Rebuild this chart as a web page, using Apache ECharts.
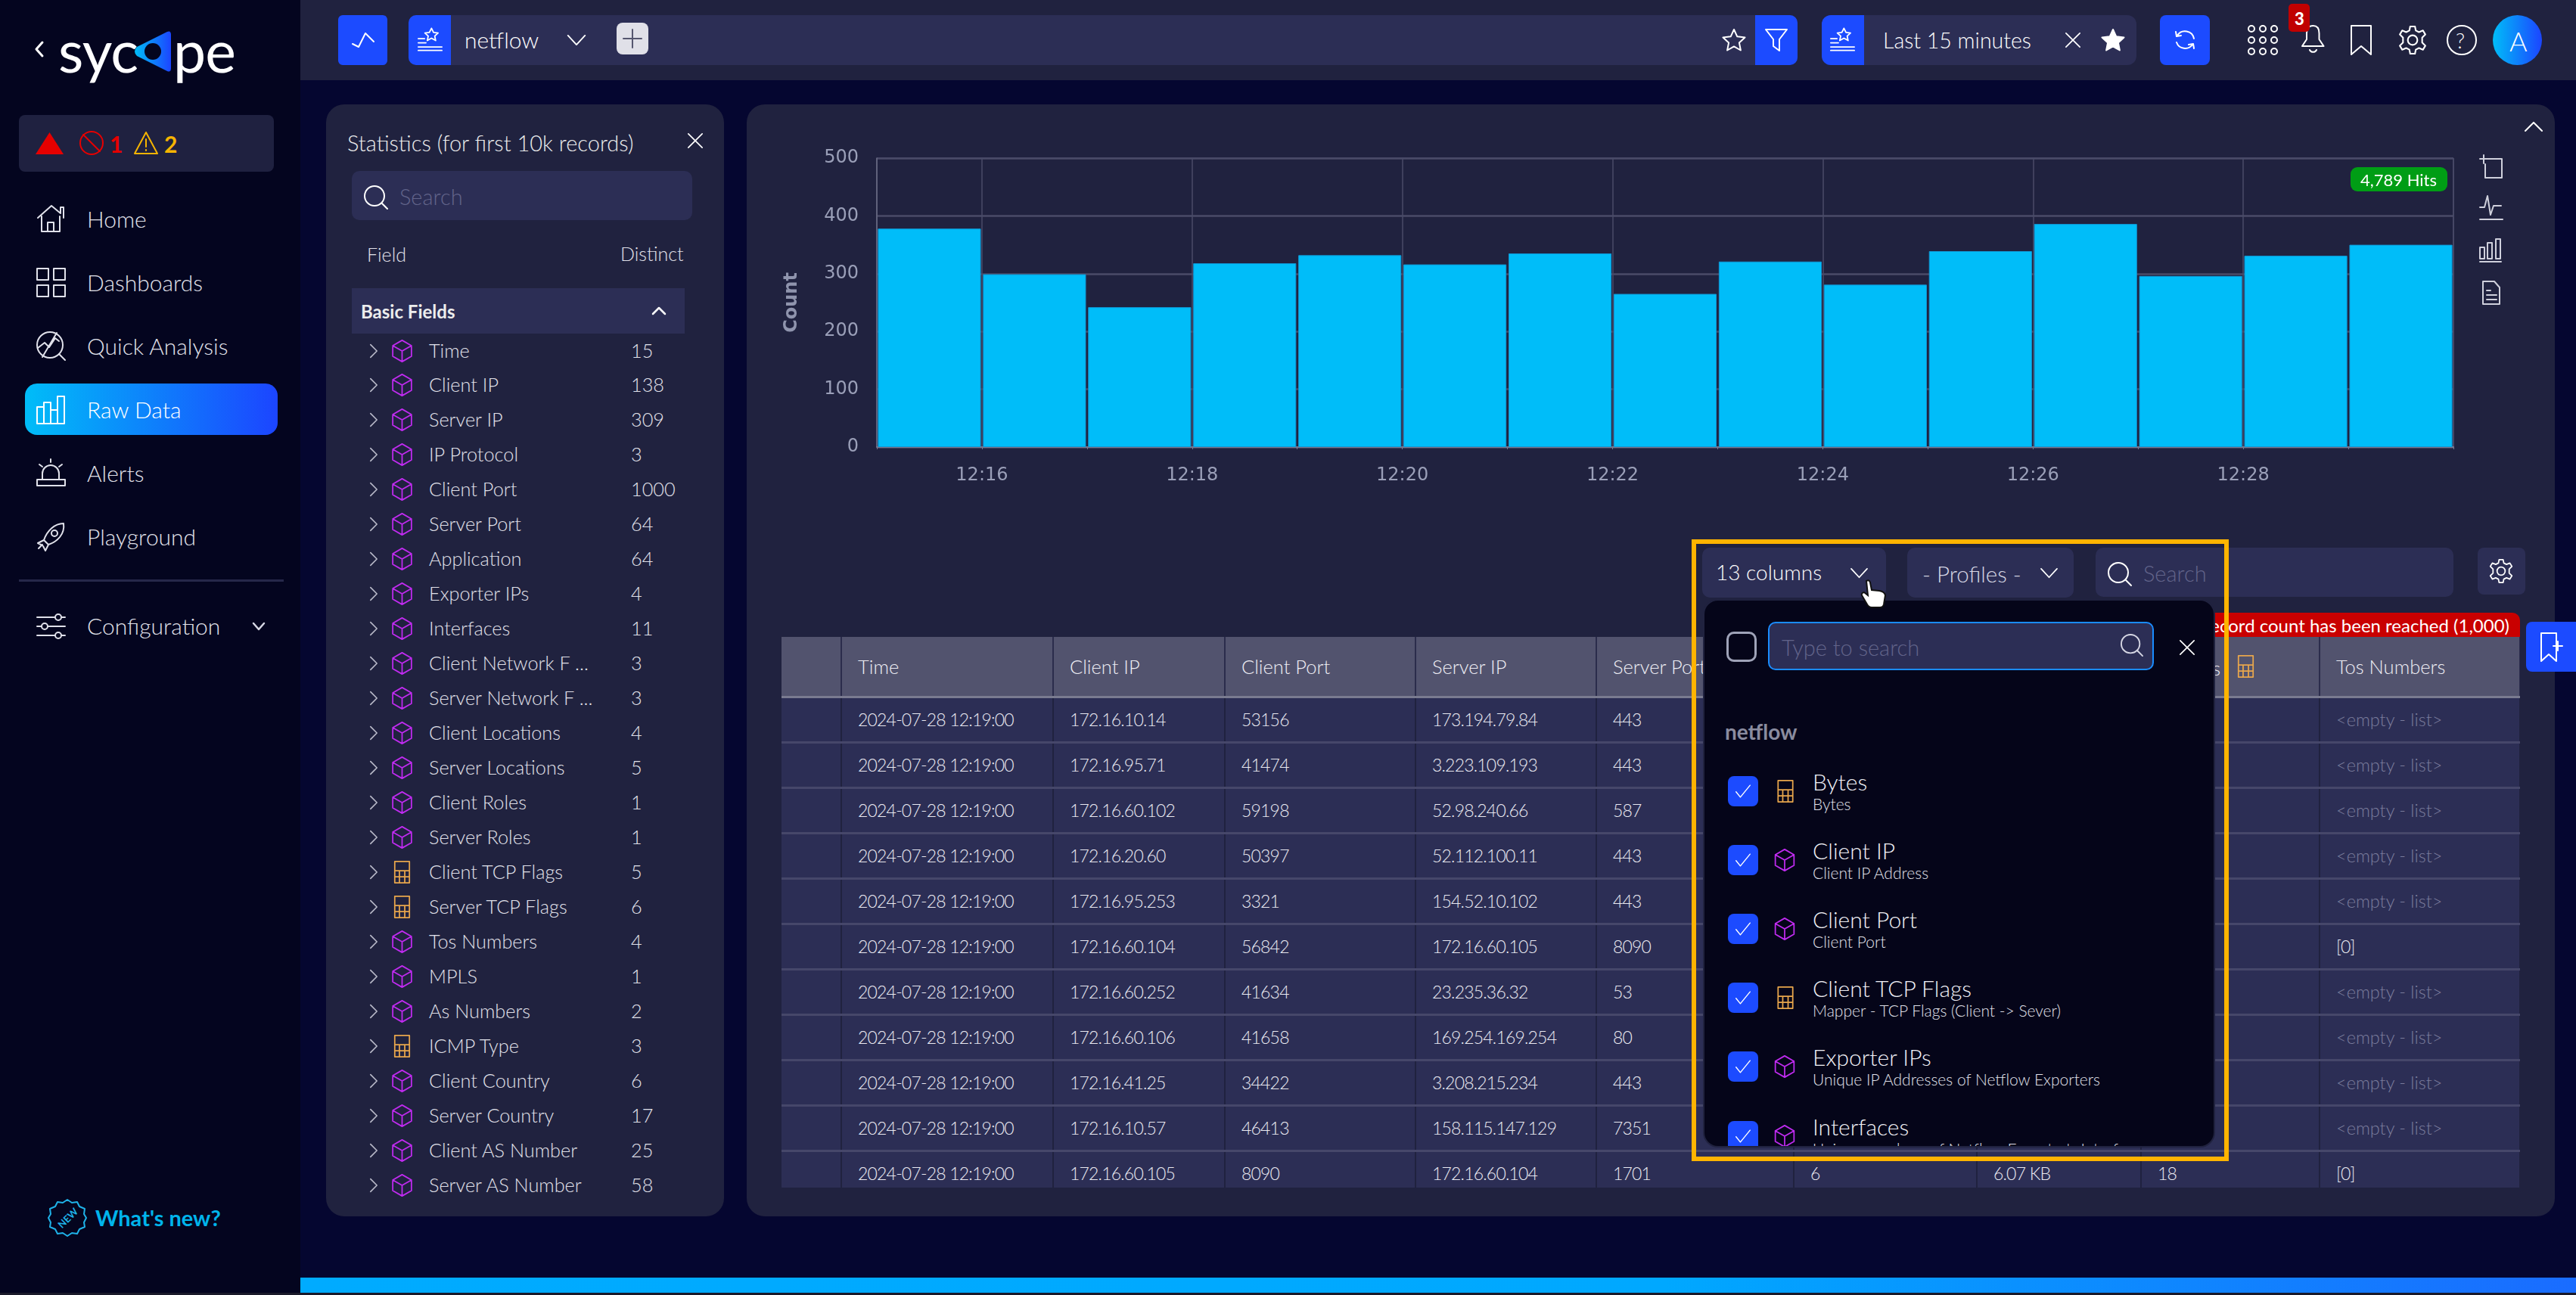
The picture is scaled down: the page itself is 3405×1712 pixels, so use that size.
<!DOCTYPE html>
<html lang="en">
<head>
<meta charset="UTF-8">
<title>Sycope - Raw Data</title>
<script src="https://cdn.jsdelivr.net/npm/echarts@6/dist/echarts.min.js"></script>
<style>
  html, body { margin: 0; padding: 0; }
  body { width: 3405px; height: 1712px; position: relative; overflow: hidden; background: #050630;
         font-family: Lato, "Noto Sans", sans-serif; color: #e4e5ee; font-size: 26px; font-weight: 300; }
  .a { position: absolute; }
  .t { position: absolute; white-space: nowrap; transform: translateY(-50%); }
  svg.i { position: absolute; fill: none; stroke: currentColor; stroke-width: 2; stroke-linecap: round; stroke-linejoin: round; overflow: visible; }
  .blue { background: #1c4bff; }
  .field { color: #e0e1ea; font-size: 25.3px; }
  .dim { color: #62648a; }
  #tableWrap { left: 1033px; top: 842px; width: 2298px; height: 728px; overflow: hidden; }
  table { border-collapse: collapse; table-layout: fixed; width: 2298px; }
  th { height: 79px; padding: 0 0 0 21px; background: #52536e; border-right: 2px solid #2b2c4c; border-bottom: 3px solid #7a7b90;
       text-align: left; font-weight: 300; color: #eeeef4; font-size: 25.5px; position: relative; box-sizing: border-box; white-space: nowrap; overflow: hidden; }
  td { height: 60px; padding: 0 0 0 21px; background: #2c2e55; border-right: 2px solid #20223f; border-bottom: 3px solid #46476a;
       color: #eaeaf2; font-size: 23px; letter-spacing: -0.8px; box-sizing: border-box; white-space: nowrap; overflow: hidden; }
  td.empty { color: #7a7c9c; font-size: 23.5px; letter-spacing: 0; }
</style>
</head>
<body>
<svg width="0" height="0" style="position:absolute">
  <defs>
    <linearGradient id="lg" x1="0" x2="1" y1="0" y2="0"><stop offset="0" stop-color="#00bdf8"/><stop offset="1" stop-color="#1c45ff"/></linearGradient>
    <symbol id="cube" viewBox="0 0 30 34" overflow="visible"><path d="M15 1 29 9v16l-14 8-14-8V9zM1 9l14 8 14-8M15 17v16"/></symbol>
    <symbol id="calc" viewBox="0 0 24 34" overflow="visible"><path d="M1 1h22v32H1zM1 15h22M1 24h22M8 15v18M16 15v18"/></symbol>
    <symbol id="chev" viewBox="0 0 12 22" overflow="visible"><path d="M1 1l10 10L1 21"/></symbol>
    <symbol id="down" viewBox="0 0 26 16" overflow="visible"><path d="M1 1l12 13L25 1"/></symbol>
    <symbol id="x" viewBox="0 0 24 24" overflow="visible"><path d="M1 1l22 22M23 1 1 23"/></symbol>
    <symbol id="search" viewBox="0 0 32 32" overflow="visible"><circle cx="14" cy="14" r="13"/><path d="M24 24l7 7"/></symbol>
    <symbol id="check" viewBox="0 0 28 24" overflow="visible"><path d="M1 13l8 10L27 1"/></symbol>
    <symbol id="star" viewBox="0 0 30 30" overflow="visible"><path d="M15 1l4.3 9.3 10.2 1.2-7.6 6.9 2 10.1L15 23.4l-8.9 5.1 2-10.1L.5 11.5l10.2-1.2z"/></symbol>
    <symbol id="favlist" viewBox="0 0 36 34" overflow="visible"><path d="M20 1l3 6 6.5 .8-4.8 4.4 1.3 6.5-6-3.3-6 3.3 1.3-6.5-4.8-4.4 6.5-.8zM1 16h9M1 22h11M1 28h34M1 33h34"/></symbol>
    <symbol id="gear" viewBox="0 0 36 36" overflow="visible"><circle cx="18" cy="18" r="6"/><path d="M15 1h6l1 5 4 2 5-2 3 5-4 4v6l4 4-3 5-5-2-4 2-1 5h-6l-1-5-4-2-5 2-3-5 4-4v-6l-4-4 3-5 5 2 4-2z"/></symbol>
  </defs>
</svg>

<!-- sidebar -->
<div class="a" style="left:0;top:0;width:397px;height:1712px;background:#04051f"></div>
<svg class="i" style="left:47px;top:55px;width:10px;height:20px;color:#fff"><path d="M9 1 1 10l8 9" stroke-width="3"/></svg>
<div class="t" style="left:77px;top:66px;font-size:77px;font-weight:400;color:#fff;letter-spacing:-1px">syc</div>
<svg class="a" style="left:177px;top:40px;width:50px;height:56px" viewBox="0 0 50 56"><path d="M44 2 4 22q-6 6 0 12l40 20q5 2 5-4V6q0-6-5-4z" fill="url(#lg)"/><circle cx="25" cy="28" r="11" fill="#04051f"/></svg>
<div class="t" style="left:229px;top:66px;font-size:77px;font-weight:400;color:#fff;letter-spacing:-1px">pe</div>

<div class="a" style="left:25px;top:152px;width:337px;height:75px;border-radius:8px;background:#1f2140"></div>
<svg class="a" style="left:47px;top:175px;width:37px;height:29px" viewBox="0 0 37 29"><path d="M18.500 0 37 29H0z" fill="#e60000"/></svg>
<svg class="i" style="left:105px;top:173px;width:32px;height:32px;color:#e60000" viewBox="0 0 32 32" stroke-width="2.500"><circle cx="16" cy="16" r="15"/><path d="M5 5l22 22"/></svg>
<div class="t" style="left:145px;top:190px;font-size:30px;font-weight:700;color:#e60000">1</div>
<svg class="i" style="left:177px;top:173px;width:32px;height:32px;color:#f5b400" viewBox="0 0 32 32"><path d="M16 2 31 30H1zM16 11v10M16 25v1"/></svg>
<div class="t" style="left:217px;top:190px;font-size:30px;font-weight:700;color:#f5b400">2</div>

<div class="a" style="left:33px;top:507px;width:334px;height:68px;border-radius:16px;background:linear-gradient(90deg,#00bdf8,#1c45ff)"></div>
<div id="nav"></div>
<div class="a" style="left:25px;top:766px;width:350px;height:3px;background:#26284a"></div>
<svg class="i" style="left:334px;top:823px;width:16px;height:10px;color:#d6d7e4"><path d="M1 1l7 8 7-8" stroke-width="2.500"/></svg>

<svg class="i" style="left:64px;top:1585px;width:51px;height:49px;color:#1fb2e8" viewBox="0 0 51 49" stroke-width="2.500"><path d="M25 1l6 4 7-1 3 6 7 3-1 7 3 5-3 6 1 6-7 3-3 6-7-1-6 4-6-4-7 1-3-6-7-3 1-6-3-6 3-5-1-7 7-3 3-6 7 1z"/></svg>
<div class="t" style="left:74px;top:1610px;transform:translateY(-50%) rotate(-45deg);font-size:13px;font-weight:700;color:#1fb2e8">NEW</div>
<div class="t" style="left:126px;top:1609px;font-size:29px;font-weight:700;color:#00b4ec">What's new?</div>

<!-- top bar -->
<div class="a" style="left:397px;top:0;width:3008px;height:106px;background:#20223f"></div>
<div class="a blue" style="left:447px;top:20px;width:65px;height:66px;border-radius:6px"></div>
<svg class="i" style="left:464px;top:42px;width:32px;height:22px;color:#fff" viewBox="0 0 32 22" stroke-width="3"><path d="M2 16l8 4 9-18 11 11"/></svg>
<div class="a" style="left:540px;top:20px;width:1836px;height:66px;border-radius:10px;background:#2c2e55"></div>
<div class="a blue" style="left:540px;top:20px;width:56px;height:66px;border-radius:10px 0 0 10px"></div>
<svg class="i" style="left:552px;top:36px;width:33px;height:32px;color:#fff"><use href="#favlist"/></svg>
<div class="t" style="left:614px;top:52px;font-size:30px;color:#fff">netflow</div>
<svg class="i" style="left:749px;top:46px;width:26px;height:15px;color:#fff" stroke-width="3"><use href="#down"/></svg>
<div class="a" style="left:815px;top:30px;width:42px;height:42px;border-radius:8px;background:#e0e0e8"></div>
<svg class="i" style="left:823px;top:38px;width:26px;height:26px;color:#55566f"><path d="M13 1v24M1 13h24"/></svg>
<svg class="i" style="left:2277px;top:37px;width:30px;height:32px;color:#fff"><use href="#star"/></svg>
<div class="a blue" style="left:2320px;top:20px;width:56px;height:66px;border-radius:0 10px 10px 0"></div>
<svg class="i" style="left:2333px;top:38px;width:30px;height:30px;color:#fff" viewBox="0 0 30 30"><path d="M1 1h28L19 14v15l-8-6V14z"/></svg>

<div class="a" style="left:2408px;top:20px;width:416px;height:66px;border-radius:12px;background:#2c2e55"></div>
<div class="a blue" style="left:2408px;top:20px;width:56px;height:66px;border-radius:12px 0 0 12px"></div>
<svg class="i" style="left:2419px;top:36px;width:33px;height:32px;color:#fff"><use href="#favlist"/></svg>
<div class="t" style="left:2489px;top:53px;font-size:28.5px;color:#fff">Last 15 minutes</div>
<svg class="i" style="left:2730px;top:43px;width:20px;height:20px;color:#fff"><use href="#x"/></svg>
<svg class="i" style="left:2778px;top:37px;width:30px;height:32px;color:#fff;fill:#fff"><use href="#star"/></svg>
<div class="a blue" style="left:2855px;top:20px;width:66px;height:66px;border-radius:8px"></div>
<svg class="i" style="left:2873px;top:38px;width:30px;height:30px;color:#fff" viewBox="0 0 30 30"><path d="M5 9a12 12 0 0 1 22 4M25 21a12 12 0 0 1-21-3M3 4l1 6 6-1M27 26l-1-6-6 1"/></svg>
<svg class="i" style="left:2971px;top:33px;width:40px;height:40px;color:#fff" viewBox="0 0 40 40"><circle cx="5" cy="5" r="4"/><circle cx="20" cy="5" r="4"/><circle cx="35" cy="5" r="4"/><circle cx="5" cy="20" r="4"/><circle cx="20" cy="20" r="4"/><circle cx="35" cy="20" r="4"/><circle cx="5" cy="35" r="4"/><circle cx="20" cy="35" r="4"/><circle cx="35" cy="35" r="4"/></svg>
<svg class="i" style="left:3042px;top:33px;width:31px;height:38px;color:#fff" viewBox="0 0 31 38"><path d="M15.500 1c6 0 8 5 8 10v8l6 9H1l6-9v-8c0-5 2-10 8.500-10zM11 33a5 5 0 0 0 9 0"/></svg>
<div class="a" style="left:3025px;top:5px;width:28px;height:37px;border-radius:5px;background:#c00000"></div>
<div class="t" style="left:3033px;top:24px;font-size:22px;font-weight:900;color:#fff">3</div>
<svg class="i" style="left:3107px;top:33px;width:28px;height:40px;color:#fff" viewBox="0 0 28 40"><path d="M1 1h26v38L14 28 1 39z"/></svg>
<svg class="i" style="left:3170px;top:33px;width:38px;height:40px;color:#fff"><use href="#gear"/></svg>
<svg class="i" style="left:3234px;top:33px;width:40px;height:40px;color:#fff" viewBox="0 0 40 40"><circle cx="20" cy="20" r="19"/></svg>
<div class="t" style="left:3246px;top:53px;font-size:28px;color:#fff">?</div>
<div class="a" style="left:3295px;top:20px;width:65px;height:66px;border-radius:50%;background:linear-gradient(90deg,#00bdf8,#1c45ff)"></div>
<div class="t" style="left:3317px;top:54px;font-size:36px;color:#fff">A</div>

<!-- statistics panel -->
<div class="a" style="left:431px;top:138px;width:526px;height:1470px;border-radius:24px;background:#20223f"></div>
<div class="t" style="left:459px;top:188px;font-size:29px;color:#eceded">Statistics (for first 10k records)</div>
<svg class="i" style="left:909px;top:176px;width:20px;height:20px;color:#fff"><use href="#x"/></svg>
<div class="a" style="left:465px;top:226px;width:450px;height:65px;border-radius:10px;background:#2c2e55"></div>
<svg class="i" style="left:481px;top:245px;width:32px;height:32px;color:#fff"><use href="#search"/></svg>
<div class="t dim" style="left:528px;top:259px;font-size:29px">Search</div>
<div class="t" style="left:485px;top:336px;font-size:25px;color:#e0e1ea">Field</div>
<div class="t" style="left:820px;top:335px;font-size:25px;color:#e0e1ea">Distinct</div>
<div class="a" style="left:465px;top:381px;width:440px;height:60px;background:#2c2e55"></div>
<div class="t" style="left:477px;top:411px;font-size:24px;font-weight:700;color:#eceded">Basic Fields</div>
<svg class="i" style="left:862px;top:406px;width:18px;height:10px;color:#fff"><path d="M1 9l8-8 8 8" stroke-width="2.500"/></svg>
<div id="fields"></div>

<!-- main panel -->
<div class="a" style="left:987px;top:138px;width:2390px;height:1470px;border-radius:24px;background:#20223f"></div>
<div id="histogram" class="a" style="left:987px;top:138px;width:2390px;height:540px"></div>
<div class="a" style="left:3107px;top:221px;width:128px;height:32px;border-radius:9px;background:#009d15"></div>
<div class="t" style="left:3120px;top:237px;font-size:22px;font-weight:400;color:#fff">4,789 Hits</div>
<svg class="i" style="left:3337px;top:161px;width:24px;height:13px;color:#fff" stroke-width="3"><path d="M1 12 12 1l11 11"/></svg>
<svg class="i" style="left:3277px;top:205px;width:31px;height:31px;color:#cfd0dc" viewBox="0 0 31 31"><path d="M1 5h10M6 0v11M11 5h19v25H8V12"/></svg>
<svg class="i" style="left:3277px;top:258px;width:31px;height:34px;color:#cfd0dc" viewBox="0 0 31 34"><path d="M1 16h6l4-15 4 25 4-12h10M1 32h30"/></svg>
<svg class="i" style="left:3277px;top:315px;width:30px;height:32px;color:#cfd0dc" viewBox="0 0 30 32"><path d="M1 12h6v15H1zM11 6h6v21h-6zM22 1h6v26h-6zM1 31h28"/></svg>
<svg class="i" style="left:3281px;top:371px;width:24px;height:32px;color:#cfd0dc" viewBox="0 0 24 32"><path d="M1 1h15l7 8v22H1zM6 13h5M6 19h13M6 25h13"/></svg>

<!-- toolbar above the table -->
<div class="a" style="left:2250px;top:724px;width:243px;height:66px;border-radius:10px;background:#2c2e55"></div>
<div class="t" style="left:2268px;top:756px;font-size:28px;color:#fff">13 columns</div>
<svg class="i" style="left:2445px;top:751px;width:25px;height:14px;color:#fff" stroke-width="2.500"><use href="#down"/></svg>
<div class="a" style="left:2521px;top:724px;width:220px;height:66px;border-radius:10px;background:#2c2e55"></div>
<div class="t" style="left:2541px;top:758px;font-size:29.500px;color:#d6d7e4">- Profiles -</div>
<svg class="i" style="left:2696px;top:751px;width:25px;height:14px;color:#fff" stroke-width="2.500"><use href="#down"/></svg>
<div class="a" style="left:2770px;top:724px;width:473px;height:65px;border-radius:10px;background:#2c2e55"></div>
<svg class="i" style="left:2786px;top:743px;width:32px;height:32px;color:#fff"><use href="#search"/></svg>
<div class="t dim" style="left:2833px;top:757px;font-size:29px">Search</div>
<div class="a" style="left:3275px;top:724px;width:63px;height:62px;border-radius:8px;background:#2c2e55"></div>
<svg class="i" style="left:3290px;top:739px;width:32px;height:32px;color:#fff"><use href="#gear"/></svg>

<!-- table -->
<div class="a" style="left:2700px;top:810px;width:631px;height:32px;border-radius:10px 10px 0 0;background:#c90000"></div>
<div class="t" style="right:88px;top:826px;font-size:24px;font-weight:400;color:#fff">Maximum record count has been reached (1,000)</div>
<div id="tableWrap" class="a"></div>
<svg class="i" style="left:2957px;top:866px;width:23px;height:30px;color:#e8a64c"><use href="#calc"/></svg>
<div class="a blue" style="left:3339px;top:822px;width:66px;height:66px;border-radius:8px 0 0 8px"></div>
<svg class="i" style="left:3358px;top:836px;width:30px;height:40px;color:#fff" viewBox="0 0 30 40"><path d="M1 1h20v37l-10-9-10 9zM23 12v12M17 18h12"/></svg>

<!-- column picker -->
<div class="a" style="left:2251px;top:792px;width:677px;height:725px;border-radius:20px;background:#050519;border:2px solid #20223f;box-sizing:border-box;overflow:hidden" id="picker"></div>
<div class="a" style="left:2236px;top:713px;width:710px;height:822px;border:6px solid #ffb400;box-sizing:border-box"></div>
<svg class="a" style="left:2459px;top:766px;width:36px;height:38px" viewBox="0 0 36 38"><path d="M8 2q4-2 5 2l2 10 10 1q7 1 8 6l-2 12q-1 4-5 4H15q-4 0-6-4L2 21q-1-3 3-4l5 4z" fill="#fff" stroke="#111" stroke-width="2"/></svg>

<!-- bottom strip -->
<div class="a" style="left:397px;top:1689px;width:3008px;height:20px;background:linear-gradient(90deg,#00abff 0%,#00a8ff 60%,#1a6cff 100%)"></div>
<div class="a" style="left:0;top:1709px;width:3405px;height:3px;background:#1a1a2a"></div>

<script>
  // histogram: one bin per minute
  var binStarts = ['12:15', '12:16', '12:17', '12:18', '12:19', '12:20', '12:21', '12:22', '12:23', '12:24', '12:25', '12:26', '12:27', '12:28', '12:29'];
  var binCounts = [378, 299, 242, 318, 332, 316, 335, 265, 321, 281, 339, 386, 296, 331, 350];
  var yTicks = [0, 100, 200, 300, 400, 500];

  // left menu
  var navLabels = ['Home', 'Dashboards', 'Quick Analysis', 'Raw Data', 'Alerts', 'Playground', 'Configuration'];

  // statistics list
  var fieldNames = ['Time', 'Client IP', 'Server IP', 'IP Protocol', 'Client Port', 'Server Port', 'Application', 'Exporter IPs', 'Interfaces', 'Client Network F ...', 'Server Network F ...', 'Client Locations', 'Server Locations', 'Client Roles', 'Server Roles', 'Client TCP Flags', 'Server TCP Flags', 'Tos Numbers', 'MPLS', 'As Numbers', 'ICMP Type', 'Client Country', 'Server Country', 'Client AS Number', 'Server AS Number'];
  var fieldDistinct = [15, 138, 309, 3, 1000, 64, 64, 4, 11, 3, 3, 4, 5, 1, 1, 5, 6, 4, 1, 2, 3, 6, 17, 25, 58];
  var calcFields = ['Client TCP Flags', 'Server TCP Flags', 'ICMP Type'];

  // table rows
  var rowTime = '2024-07-28 12:19:00';
  var clientIps = ['172.16.10.14', '172.16.95.71', '172.16.60.102', '172.16.20.60', '172.16.95.253', '172.16.60.104', '172.16.60.252', '172.16.60.106', '172.16.41.25', '172.16.10.57', '172.16.60.105'];
  var clientPorts = ['53156', '41474', '59198', '50397', '3321', '56842', '41634', '41658', '34422', '46413', '8090'];
  var serverIps = ['173.194.79.84', '3.223.109.193', '52.98.240.66', '52.112.100.11', '154.52.10.102', '172.16.60.105', '23.235.36.32', '169.254.169.254', '3.208.215.234', '158.115.147.129', '172.16.60.104'];
  var serverPorts = ['443', '443', '587', '443', '443', '8090', '53', '80', '443', '7351', '1701'];
  var tosNumbers = ['<empty - list>', '<empty - list>', '<empty - list>', '<empty - list>', '<empty - list>', '[0]', '<empty - list>', '<empty - list>', '<empty - list>', '<empty - list>', '[0]'];
  var lastRowHidden = ['6', '6.07 KB', '18'];

  // column picker
  var pickerTitles = ['Bytes', 'Client IP', 'Client Port', 'Client TCP Flags', 'Exporter IPs', 'Interfaces'];
  var pickerSubs = ['Bytes', 'Client IP Address', 'Client Port', 'Mapper - TCP Flags (Client -> Sever)', 'Unique IP Addresses of Netflow Exporters', "Unique numbers of Netflow Exporter's Interfaces"];
  var pickerCalc = ['Bytes', 'Client TCP Flags'];

  var navIcons = [
    '<path d="M2 18 20 2l12 10V4h4v14M7 16v20h24V16M15 36V24h8v12"/>',
    '<path d="M1 1h15v15H1zM23 1h15v15H23zM1 23h15v15H1zM23 23h15v15H23z"/>',
    '<circle cx="18" cy="18" r="17"/><path d="M30 30l8 8M2 22l9-7 6 6 8-12 5 4M27 2 8 34"/>',
    '<path d="M1 16h9v22H1zM10 10h9v28h-9zM19 20h9v18h-9zM28 2h9v36h-9z"/>',
    '<path d="M8 28v-8a11 11 0 0 1 22 0v8M1 28h37v8H1zM19 1v4M4 8l4 3M34 8l-4 3"/>',
    '<path d="M36 2C24 2 14 12 10 24l6 6c12-4 22-14 20-28zM10 24l-8 4 6 3M16 30l-4 8-3-6M8 30l-5 5"/><circle cx="24" cy="15" r="4"/>',
    '<path d="M1 8h24M33 8h5M1 20h6M15 20h23M1 32h24M33 32h5"/><circle cx="29" cy="8" r="4"/><circle cx="11" cy="20" r="4"/><circle cx="29" cy="32" r="4"/>'
  ];
  var navTops = [289, 373, 457, 541, 625, 709, 827];

  var html = '';
  navLabels.forEach(function (label, i) {
    var color = label === 'Raw Data' ? '#fff' : '#e0e1ea';
    html += '<svg class="i" style="left:48px;top:' + (navTops[i] - 19) + 'px;width:39px;height:40px;color:' + color + '" viewBox="0 0 39 40">' + navIcons[i] + '</svg>';
    html += '<div class="t" style="left:115px;top:' + navTops[i] + 'px;font-size:30px;color:' + color + '">' + label + '</div>';
  });
  document.getElementById('nav').innerHTML = html;

  html = '';
  fieldNames.forEach(function (name, i) {
    var y = 462.5 + i * 45.98;
    var calc = calcFields.indexOf(name) >= 0;
    html += '<svg class="i" style="left:489px;top:' + (y - 9) + 'px;width:10px;height:20px;color:#b8b9c8"><use href="#chev"/></svg>';
    html += '<svg class="i" style="left:' + (calc ? 520 : 517) + 'px;top:' + (y - 14) + 'px;width:' + (calc ? 23 : 29) + 'px;height:30px;color:' + (calc ? '#e8a64c' : '#c02bf0') + '"><use href="#' + (calc ? 'calc' : 'cube') + '"/></svg>';
    html += '<div class="t field" style="left:567px;top:' + y + 'px">' + name + '</div>';
    html += '<div class="t field" style="left:834px;top:' + y + 'px">' + fieldDistinct[i] + '</div>';
  });
  document.getElementById('fields').innerHTML = html;

  // column edges of the table, the hidden middle ones sit behind the picker
  var colWidths = [79, 280, 227, 252, 239, 261, 242, 217, 236, 265];
  html = '<table><colgroup>' + colWidths.map(function (w) { return '<col style="width:' + w + 'px">'; }).join('') + '</colgroup><thead><tr>';
  ['', 'Time', 'Client IP', 'Client Port', 'Server IP', 'Server Port', '', '', '<span class="a" style="right:130px;top:26px">Client TCP Flags</span>', 'Tos Numbers'].forEach(function (h) {
    html += '<th>' + h + '</th>';
  });
  html += '</tr></thead><tbody>';
  clientIps.forEach(function (ip, i) {
    var last = i === clientIps.length - 1;
    var tos = tosNumbers[i].replace('<', '&lt;').replace('>', '&gt;');
    html += '<tr><td></td><td>' + rowTime + '</td><td>' + ip + '</td><td>' + clientPorts[i] + '</td><td>' + serverIps[i] + '</td><td>' + serverPorts[i] + '</td>';
    for (var k = 0; k < 3; k++) html += '<td>' + (last ? lastRowHidden[k] : '') + '</td>';
    html += '<td class="' + (tosNumbers[i] === '[0]' ? '' : 'empty') + '">' + tos + '</td></tr>';
  });
  document.getElementById('tableWrap').innerHTML = html + '</tbody></table>';

  html = '<div class="a" style="left:29px;top:41px;width:40px;height:40px;box-sizing:border-box;border:3px solid #9fa3b8;border-radius:10px"></div>';
  html += '<div class="a" style="left:84px;top:28px;width:510px;height:64px;box-sizing:border-box;border:2px solid #1a8cff;border-radius:10px;background:#2c2e55"></div>';
  html += '<div class="t dim" style="left:102px;top:61px;font-size:29px">Type to search</div>';
  html += '<svg class="i" style="left:550px;top:44px;width:30px;height:30px;color:#d6d7e4"><use href="#search"/></svg>';
  html += '<svg class="i" style="left:628px;top:52px;width:20px;height:20px;color:#fff"><use href="#x"/></svg>';
  html += '<div class="t" style="left:27px;top:173px;font-size:28px;font-weight:700;color:#8a8c9f">netflow</div>';
  pickerTitles.forEach(function (title, i) {
    var y = 232 + i * 91.1;
    var calc = pickerCalc.indexOf(title) >= 0;
    html += '<div class="a blue" style="left:31px;top:' + y + 'px;width:40px;height:40px;border-radius:8px"></div>';
    html += '<svg class="i" style="left:41px;top:' + (y + 11) + 'px;width:20px;height:18px;color:#fff"><use href="#check"/></svg>';
    html += '<svg class="i" style="left:' + (calc ? 96 : 92) + 'px;top:' + (y + 5) + 'px;width:' + (calc ? 22 : 28) + 'px;height:30px;color:' + (calc ? '#e8a64c' : '#c02bf0') + '"><use href="#' + (calc ? 'calc' : 'cube') + '"/></svg>';
    html += '<div class="t" style="left:143px;top:' + (y + 7) + 'px;font-size:30px;color:#f0f0f6">' + title + '</div>';
    html += '<div class="t" style="left:143px;top:' + (y + 36) + 'px;font-size:21px;color:#e0e1ea">' + pickerSubs[i].replace('>', '&gt;') + '</div>';
  });
  document.getElementById('picker').innerHTML = html;

  function toTime(hhmm) {
    var p = hhmm.split(':');
    return new Date(2024, 6, 28, +p[0], +p[1], 0).getTime();
  }

  var xMax = toTime('12:30');
  var myChart = echarts.init(document.getElementById('histogram'));
  var option = {
    animation: false,
    grid: { left: 172, top: 71, width: 2084, height: 382, show: true, backgroundColor: 'transparent', borderColor: '#5c5d78', borderWidth: 1 },
    xAxis: [{
      // the bars live on a band per minute, its ticks mark the minutes
      type: 'category',
      position: 'bottom',
      data: binStarts,
      axisLine: { lineStyle: { color: '#77788f', width: 2 } },
      axisTick: { show: true, length: 3, lineStyle: { color: '#77788f' } },
      axisLabel: { show: false },
      splitLine: { show: false }
    }, {
      // same span as a clock, gives the 2 minute labels and grid lines
      type: 'time',
      position: 'bottom',
      min: toTime(binStarts[0]),
      max: xMax,
      splitNumber: 7,
      axisLine: { show: false },
      axisTick: { show: false },
      axisLabel: {
        color: '#9a9fb8', fontFamily: 'DejaVu Sans', fontSize: 24, margin: 26, showMinLabel: false,
        formatter: function (v) { return v === xMax ? '' : echarts.time.format(v, '{HH}:{mm}', false); }
      },
      splitLine: { show: true, lineStyle: { color: '#4a4b68', width: 1.5 } }
    }],
    yAxis: {
      type: 'value',
      min: yTicks[0],
      max: yTicks[yTicks.length - 1],
      interval: 100,
      name: 'Count',
      nameLocation: 'middle',
      nameGap: 100,
      nameTextStyle: { color: '#8f94ad', fontFamily: 'DejaVu Sans', fontSize: 24, fontWeight: 'bold' },
      axisLine: { show: true, lineStyle: { color: '#6a6b85', width: 1.5 } },
      axisTick: { show: false },
      axisLabel: { color: '#9a9fb8', fontFamily: 'DejaVu Sans', fontSize: 24, margin: 24 },
      splitLine: { lineStyle: { color: '#4a4b68', width: 2.5 } }
    },
    series: [{
      type: 'bar',
      xAxisIndex: 0,
      barCategoryGap: '2%',
      itemStyle: { color: '#00bdf9', borderColor: '#0f97d4', borderWidth: 1 },
      data: binCounts
    }]
  };
  myChart.setOption(option);
</script>
</body>
</html>
